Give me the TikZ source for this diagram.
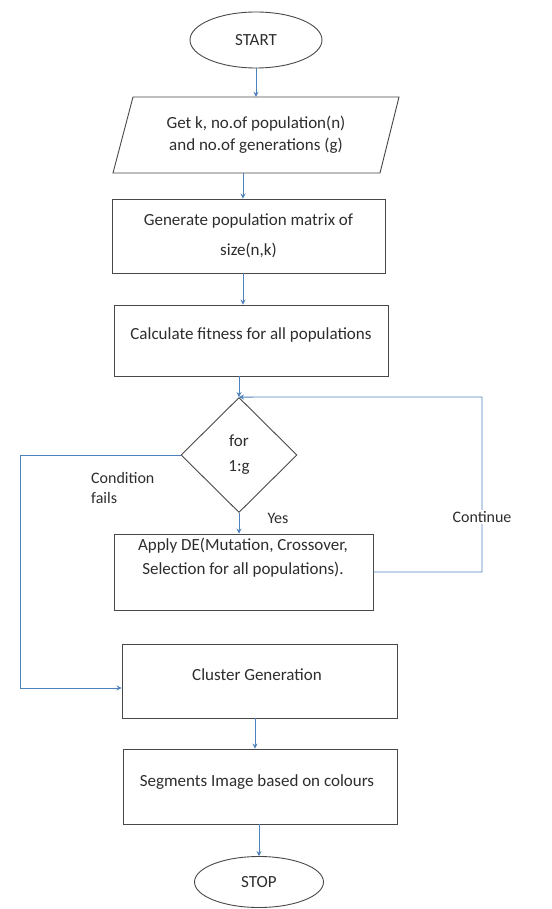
\documentclass[tikz,border=0pt]{standalone}
\usepackage{fontspec}
\setmainfont{Carlito}
\usetikzlibrary{shapes.geometric,arrows.meta}
\definecolor{lineblue}{RGB}{79,129,189}
\definecolor{boxline}{RGB}{72,72,72}
\definecolor{ink}{RGB}{45,45,45}
\begin{document}
\begin{tikzpicture}[x=1pt,y=-1pt,
  fig/.style={draw=boxline, line width=0.9pt, inner sep=0pt, text=ink, align=center, font=\fontsize{17}{22}\selectfont},
  box/.style={fig, rectangle},
  term/.style={fig, ellipse},
  txt/.style={text=ink, font=\fontsize{17}{22}\selectfont, align=center, inner sep=0pt},
  lbl/.style={text=ink, font=\fontsize{16}{20}\selectfont, inner sep=1pt, align=left},
  arr/.style={draw=lineblue, line width=0.9pt, -{Stealth[length=5pt,width=5pt]}},
  link/.style={draw=lineblue, line width=0.9pt}]
\useasboundingbox (0,0) rectangle (551,909);

% shapes
\node[term, minimum width=132, minimum height=56] (start) at (256,40) {START};
\node[txt, minimum width=266, minimum height=76] (in) at (256,135) {Get k, no.of population(n)\\and no.of generations (g)};
\draw[draw=boxline, line width=0.9pt] (133,97) -- (399,97) -- (380,173) -- (113,173) -- cycle;
\node[box, minimum width=273, minimum height=74] (gen) at (248.5,236) {Generate population matrix of\\[8pt]size(n,k)};
\node[box, minimum width=274, minimum height=71] (fit) at (251,340.5) {};
\node[txt] (fitT) at (251,335) {Calculate fitness for all populations};
\node[fig, diamond, aspect=1, minimum width=116, minimum height=115] (dec) at (239,455) {for\\[3pt]1:g};
\node[box, minimum width=259, minimum height=76] (de) at (243.5,572) {};
\node[txt] (deT) at (243,558) {Apply DE(Mutation, Crossover,\\[2pt]Selection for all populations).};
\node[box, minimum width=275, minimum height=74] (clu) at (259.5,681) {};
\node[txt] (cluT) at (257,675) {Cluster Generation};
\node[box, minimum width=274, minimum height=75] (seg) at (260,786.5) {};
\node[txt] (segT) at (257,782) {Segments Image based on colours};
\node[term, minimum width=129, minimum height=51] (stop) at (259,882) {STOP};

% connectors
\draw[arr] (start.south) -- (in.north);
\draw[arr] (in.south -| 243,0) -- (gen.north -| 243,0);
\draw[arr] (gen.south -| 243,0) -- (fit.north -| 243,0);
\draw[arr] (fit.south -| dec.north) -- (dec.north);
\draw[arr] (dec.south) -- (de.north -| dec.south);
\draw[arr] (de.east) -- (482,572) -- (482,397) -- (dec.north);
\draw[arr] (dec.west) -- (20,455) -- (20,688) -- (clu.west |- 20,688);
\draw[arr] (clu.south -| 255,0) -- (seg.north -| 255,0);
\draw[arr] (seg.south -| stop.north) -- (stop.north);

% labels
\node[lbl, fill=white] (cont) at (482,517) {Continue};
\node[lbl] (yes) at (278,518) {Yes};
\node[lbl, anchor=west] (cond) at (90,488) {Condition\\fails};
\end{tikzpicture}
\end{document}
